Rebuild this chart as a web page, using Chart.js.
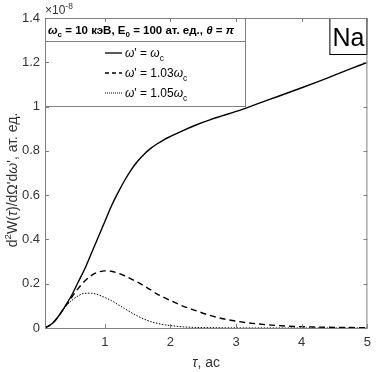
<!DOCTYPE html>
<html>
<head>
<meta charset="utf-8">
<script src="https://cdn.jsdelivr.net/npm/chart.js@4"></script>
<style>
  html, body { margin: 0; padding: 0; background: #fff; }
  #wrap { width: 378px; height: 372px; }
</style>
</head>
<body>
<div id="wrap"><canvas id="chart" width="378" height="372"></canvas></div>
<script>
// tau, attoseconds
const tau = [0.09, 0.2, 0.3, 0.4, 0.5, 0.6, 0.7, 0.8, 0.9, 1.0, 1.1, 1.2, 1.3, 1.4, 1.5, 1.6, 1.7, 1.8, 1.9, 2.0,
             2.2, 2.4, 2.6, 2.8, 3.0, 3.25, 3.5, 3.75, 4.0, 4.25, 4.5, 4.75, 5.0];
// x 1e-8
const wEqual = [0, 0.02, 0.055, 0.1, 0.15, 0.21, 0.27, 0.34, 0.41, 0.48, 0.55, 0.61, 0.665, 0.713, 0.753, 0.785, 0.811, 0.832, 0.85, 0.865,
                0.893, 0.918, 0.94, 0.959, 0.978, 1.004, 1.031, 1.058, 1.085, 1.113, 1.142, 1.171, 1.2];
const w103 = [0, 0.02, 0.055, 0.098, 0.14, 0.18, 0.213, 0.238, 0.252, 0.258, 0.256, 0.248, 0.236, 0.222, 0.207, 0.19, 0.172, 0.153, 0.138, 0.124,
              0.098, 0.077, 0.057, 0.042, 0.031, 0.021, 0.014, 0.009, 0.006, 0.004, 0.003, 0.002, 0.001];
const w105 = [0, 0.02, 0.055, 0.095, 0.125, 0.146, 0.157, 0.157, 0.15, 0.138, 0.124, 0.106, 0.088, 0.07, 0.054, 0.04, 0.029, 0.021, 0.015, 0.011,
              0.005, 0.0025, 0.0015, 0.001, 0.0005, 0.0003, 0.0002, 0.0001, 0, 0, 0, 0, 0];
const xTicks = [1, 2, 3, 4, 5];
const yTicks = [0, 0.2, 0.4, 0.6, 0.8, 1, 1.2, 1.4];

const FONT = '"Liberation Sans", Arial, sans-serif';
const AXIS_COLOR = '#808080';
const TEXT_COLOR = '#333333';

const pts = arr => tau.map((t, i) => ({ x: t, y: arr[i] }));

// draw a row of text pieces, some with sub/superscripts
function drawRuns(ctx, x, y, runs, size, weight) {
    runs.forEach(r => {
        const s = (r.sub || r.sup) ? size * 0.7 : size;
        const dy = r.sub ? size * 0.3 : (r.sup ? -size * 0.4 : 0);
        ctx.font = `${r.it ? 'italic ' : ''}${weight || ''} ${s}px ${FONT}`;
        ctx.fillText(r.t, x, y + dy);
        x += ctx.measureText(r.t).width;
    });
    return x;
}

const decorPlugin = {
    id: 'decor',
    afterDatasetsDraw(chart) {
        const { ctx, chartArea: a, scales } = chart;
        ctx.save();
        ctx.textBaseline = 'alphabetic';
        ctx.textAlign = 'left';

        // legend box
        const lx = a.left, ly = a.top, lw = 200, lh = 88;
        ctx.fillStyle = '#fff';
        ctx.fillRect(lx, ly, lw, lh);
        ctx.strokeStyle = AXIS_COLOR;
        ctx.lineWidth = 1;
        ctx.strokeRect(lx + 0.5, ly + 0.5, lw, lh);
        ctx.beginPath();
        ctx.moveTo(lx, ly + 23.5);
        ctx.lineTo(lx + lw, ly + 23.5);
        ctx.stroke();

        ctx.fillStyle = '#000';
        drawRuns(ctx, lx + 3, ly + 16, [
            { t: 'ω', it: true }, { t: 'c', sub: true }, { t: ' = 10 кэВ, E' }, { t: '0', sub: true },
            { t: ' = 100 ат. ед., ' }, { t: 'θ', it: true }, { t: ' = ' }, { t: 'π', it: true }
        ], 11.5, 'bold');

        const entries = [
            { dash: [], w: 1.3, runs: [{ t: 'ω', it: true }, { t: '\' = ' }, { t: 'ω', it: true }, { t: 'c', sub: true }] },
            { dash: [4, 3], w: 1.3, runs: [{ t: 'ω', it: true }, { t: '\' = 1.03' }, { t: 'ω', it: true }, { t: 'c', sub: true }] },
            { dash: [1, 1], w: 1, runs: [{ t: 'ω', it: true }, { t: '\' = 1.05' }, { t: 'ω', it: true }, { t: 'c', sub: true }] }
        ];
        entries.forEach((e, i) => {
            const yy = ly + 35 + i * 20;
            ctx.strokeStyle = '#000';
            ctx.lineWidth = e.w;
            ctx.setLineDash(e.dash);
            ctx.beginPath();
            ctx.moveTo(lx + 60, yy);
            ctx.lineTo(lx + 77, yy);
            ctx.stroke();
            ctx.setLineDash([]);
            ctx.fillStyle = '#000';
            drawRuns(ctx, lx + 80, yy + 4, e.runs, 12, '');
        });

        // Na box
        const nw = 38, nh = 36;
        ctx.fillStyle = '#fff';
        ctx.fillRect(a.right - nw, a.top, nw, nh);
        ctx.strokeStyle = '#000';
        ctx.lineWidth = 1;
        ctx.strokeRect(a.right - nw + 0.5, a.top + 0.5, nw - 1, nh);
        ctx.fillStyle = '#000';
        ctx.font = `25px ${FONT}`;
        ctx.textAlign = 'center';
        ctx.fillText('Na', a.right - nw / 2, a.top + 28);

        // axes box with inward ticks
        ctx.strokeStyle = AXIS_COLOR;
        ctx.lineWidth = 1;
        ctx.strokeRect(a.left + 0.5, a.top + 0.5, a.right - a.left - 1, a.bottom - a.top);
        ctx.beginPath();
        xTicks.forEach(v => {
            const px = Math.round(scales.x.getPixelForValue(v)) + 0.5;
            ctx.moveTo(px, a.bottom); ctx.lineTo(px, a.bottom - 4);
            ctx.moveTo(px, a.top); ctx.lineTo(px, a.top + 4);
        });
        yTicks.forEach(v => {
            const py = Math.round(scales.y.getPixelForValue(v)) + 0.5;
            ctx.moveTo(a.left, py); ctx.lineTo(a.left + 4, py);
            ctx.moveTo(a.right, py); ctx.lineTo(a.right - 4, py);
        });
        ctx.stroke();

        // exponent
        ctx.fillStyle = TEXT_COLOR;
        ctx.textAlign = 'left';
        drawRuns(ctx, a.left, a.top - 4, [{ t: '×10' }, { t: '-8', sup: true }], 12, '');

        // x title
        const xt = [{ t: 'τ', it: true }, { t: ', ас' }];
        let tw = 0;
        xt.forEach(r => { ctx.font = `${r.it ? 'italic ' : ''}14px ${FONT}`; tw += ctx.measureText(r.t).width; });
        drawRuns(ctx, (a.left + a.right) / 2 - tw / 2, 367, xt, 14, '');

        // y title
        const yt = [{ t: 'd' }, { t: '2', sup: true }, { t: 'W(' }, { t: 'τ', it: true }, { t: ')/dΩ\'d' },
                    { t: 'ω', it: true }, { t: '\', ат. ед.' }];
        ctx.save();
        ctx.translate(17, 180);
        ctx.rotate(-Math.PI / 2);
        let yw = 0;
        yt.forEach(r => {
            const s = r.sup ? 14 * 0.7 : 14;
            ctx.font = `${r.it ? 'italic ' : ''}${s}px ${FONT}`;
            yw += ctx.measureText(r.t).width;
        });
        drawRuns(ctx, -yw / 2, 0, yt, 14, '');
        ctx.restore();

        ctx.restore();
    }
};

new Chart(document.getElementById('chart'), {
    type: 'line',
    data: {
        datasets: [
            { label: "ω' = ωc", data: pts(wEqual), borderColor: '#000', borderWidth: 1.4 },
            { label: "ω' = 1.03ωc", data: pts(w103), borderColor: '#000', borderWidth: 1.4, borderDash: [6, 4] },
            { label: "ω' = 1.05ωc", data: pts(w105), borderColor: '#000', borderWidth: 1, borderDash: [1.5, 1.5] }
        ]
    },
    options: {
        responsive: false,
        animation: false,
        elements: { point: { radius: 0 }, line: { cubicInterpolationMode: 'monotone' } },
        layout: { padding: { top: 18, right: 9, left: 0, bottom: 0 } },
        plugins: { legend: { display: false }, tooltip: { enabled: false } },
        scales: {
            x: {
                type: 'linear', min: 0.09, max: 5,
                grid: { display: false, drawTicks: false },
                border: { display: false },
                afterBuildTicks: s => { s.ticks = xTicks.map(v => ({ value: v })); },
                afterFit: s => { s.height = 44; },
                ticks: { color: TEXT_COLOR, font: { family: FONT, size: 13 }, padding: 7, maxRotation: 0, callback: v => String(v) }
            },
            y: {
                min: 0, max: 1.4,
                grid: { display: false, drawTicks: false },
                border: { display: false },
                afterBuildTicks: s => { s.ticks = yTicks.map(v => ({ value: v })); },
                afterFit: s => { s.width = 45; },
                ticks: { color: TEXT_COLOR, font: { family: FONT, size: 13 }, padding: 5, callback: v => String(v) }
            }
        }
    },
    plugins: [decorPlugin]
});
</script>
</body>
</html>
